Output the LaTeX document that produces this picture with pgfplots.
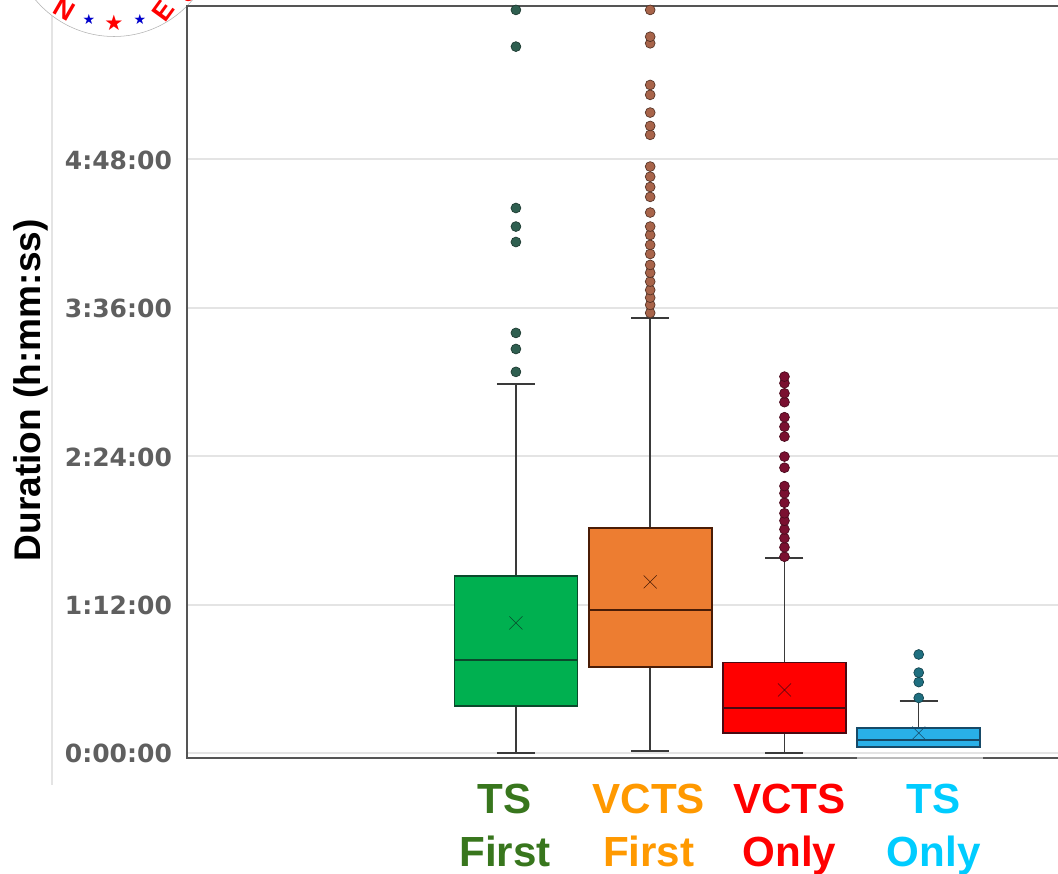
\documentclass[border=0pt]{standalone}
\usepackage{pgfplots}
\usepackage{fontspec}
\pgfplotsset{compat=1.18}
\usepgfplotslibrary{statistics}
\setmainfont{Liberation Sans}
\newfontfamily\tickfont{DejaVu Sans}[BoldFont={DejaVu Sans Bold}]
\newfontfamily\starfont{DejaVu Sans}
\definecolor{lblgreen}{HTML}{38761D}
\definecolor{lblorange}{HTML}{FF9900}
\definecolor{lblred}{HTML}{FF0000}
\definecolor{lblcyan}{HTML}{00CCFF}
\definecolor{tickgray}{HTML}{5F5F5F}
\definecolor{gridgray}{HTML}{E4E4E4}
\definecolor{framegray}{HTML}{555555}
\definecolor{whiskergray}{HTML}{3A3A3A}
\definecolor{boxgreen}{HTML}{00B050}
\definecolor{boxorange}{HTML}{ED7D31}
\definecolor{boxred}{HTML}{FF0000}
\definecolor{boxblue}{HTML}{29B0E8}
\definecolor{lngreen}{HTML}{0A4A2C}
\definecolor{lnorange}{HTML}{4A1C06}
\definecolor{lnred}{HTML}{4A0A12}
\definecolor{lnblue}{HTML}{174A68}
\definecolor{flgreen}{HTML}{2F5F50}
\definecolor{florange}{HTML}{A8644A}
\definecolor{flred}{HTML}{7A1030}
\definecolor{flblue}{HTML}{1F6F80}
\newlength{\px}\setlength{\px}{0.75pt}
\begin{document}
\begin{tikzpicture}
\path[use as bounding box] (0,0) rectangle (793.5pt,-655.5pt);
\clip (0,0) rectangle (793.5pt,-655.5pt);
\fill[white] (0,0) rectangle (793.5pt,-655.5pt);
\begin{scope}[x=\px,y=-\px]
\draw[gridgray,line width=2.2pt] (52,15) -- (52,785);
\clip (0,0) rectangle (1058,40);
\draw[gray!60,fill=white,line width=0.4pt] (114,-66) circle[radius=102.5*0.75pt];
\node[text=red,font=\bfseries\fontsize{20}{20}\selectfont,rotate=-30] at (64,9) {N};
\node[text=red,font=\bfseries\fontsize{20}{20}\selectfont,rotate=54] at (163,11) {E};
\node[text=red,font=\bfseries\fontsize{20}{20}\selectfont,rotate=-38] at (38,-9) {O};
\node[text=red,font=\bfseries\fontsize{20}{20}\selectfont,rotate=40] at (188,-8) {S};
\node[text=blue!80!black,font=\starfont\fontsize{10.5}{10.5}\selectfont] at (89,19.5) {★};
\node[text=red,font=\starfont\fontsize{16}{16}\selectfont] at (114,23) {★};
\node[text=blue!80!black,font=\starfont\fontsize{10.5}{10.5}\selectfont] at (140,19.5) {★};
\end{scope}
\begin{axis}[
  at={(140.25pt,-568.5pt)},anchor=south west,
  scale only axis,width=684.75pt,height=564pt,
  xmin=-2.4497,xmax=4.35,ymin=-2.43,ymax=362.4,
  axis line style={framegray,line width=1.9pt},
  clip=true,
  xtick={-0.082,0.989,2.037,3.112},
  xticklabels={{\color{lblgreen}TS\\\color{lblgreen}First},{\color{lblorange}VCTS\\\color{lblorange}First},{\color{lblred}VCTS\\\color{lblred}Only},{\color{lblcyan}TS\\\color{lblcyan}Only}},
  x tick label style={font=\bfseries\fontsize{31.6}{39.75}\selectfont,align=center,yshift=-16.2pt},
  major tick length=0pt,
  ytick={0,72,144,216,288},
  yticklabels={0:00:00,1:12:00,2:24:00,3:36:00,4:48:00},
  y tick label style={font=\tickfont\bfseries\fontsize{18.75}{18.75}\selectfont,text=tickgray,xshift=-7.8pt,yshift=-0.6pt},
  ymajorgrids,
  grid style={gridgray,line width=1.6pt},
  ylabel={Duration (h:mm:ss)},
  every axis y label/.style={at={(axis description cs:-0.1708,0.489)},rotate=90,anchor=center},
  ylabel style={font=\bfseries\fontsize{27.8}{27.8}\selectfont},
  boxplot/draw direction=y,
  boxplot/box extend=0.916,
  boxplot/whisker extend=0.283,
  boxplot/every average/.style={/tikz/mark=x,/tikz/mark size=6.9pt,/tikz/line width=1.3pt,/tikz/every mark/.style={draw=black,draw opacity=0.75,line width=1.3pt,fill=none}},
  boxplot/every whisker/.style={draw=whiskergray,line width=1.1pt},
  boxplot/every box/.style={line width=1.3pt},
  boxplot/every median/.style={line width=1.2pt},
]
\addplot+[boxplot prepared={draw position=0,lower whisker=0,lower quartile=22.8,median=45.1,upper quartile=85.9,upper whisker=179.0,average=63.1},
  fill=boxgreen,draw=lngreen,solid,mark=*,mark size=3.7pt,mark options={fill=flgreen,draw=flgreen!60!black,line width=0.5pt}]
  table[row sep=\\,y index=0]{184.9\\196.0\\203.8\\247.9\\255.4\\264.4\\342.7\\360.5\\};
\addplot+[boxplot prepared={draw position=1,lower whisker=1.0,lower quartile=41.7,median=69.4,upper quartile=109.2,upper whisker=211.1,average=83.0},
  fill=boxorange,draw=lnorange,solid,mark=*,mark size=3.7pt,mark options={fill=florange,draw=florange!50!black,line width=0.5pt}]
  table[row sep=\\,y index=0]{213.5\\217.4\\220.9\\224.6\\228.7\\233.0\\236.8\\242.1\\246.5\\251.3\\255.4\\262.2\\269.8\\274.6\\279.6\\284.5\\299.9\\304.2\\310.7\\319.3\\324.1\\344.3\\347.5\\360.5\\};
\addplot+[boxplot prepared={draw position=2,lower whisker=0,lower quartile=9.7,median=21.8,upper quartile=43.9,upper whisker=94.6,average=30.6},
  fill=boxred,draw=lnred,solid,mark=*,mark size=3.7pt,mark options={fill=flred,draw=flred!60!black,line width=0.5pt}]
  table[row sep=\\,y index=0]{95.2\\99.8\\104.2\\108.5\\112.7\\116.3\\121.4\\126.0\\129.5\\138.4\\143.8\\153.5\\158.3\\162.9\\170.2\\174.5\\179.4\\182.6\\};
\addplot+[boxplot prepared={draw position=3,lower whisker=2.9,lower quartile=2.9,median=6.3,upper quartile=12.1,upper whisker=25.2,average=9.7},
  fill=boxblue,draw=lnblue,solid,mark=*,mark size=3.7pt,mark options={fill=flblue,draw=flblue!60!black,line width=0.5pt}]
  table[row sep=\\,y index=0]{26.7\\34.4\\39.0\\47.8\\};
\end{axis}
\begin{scope}[x=\px,y=-\px]
\draw[white,opacity=0.6,line width=2pt] (857,758) -- (983,758);
\end{scope}
\end{tikzpicture}
\end{document}
